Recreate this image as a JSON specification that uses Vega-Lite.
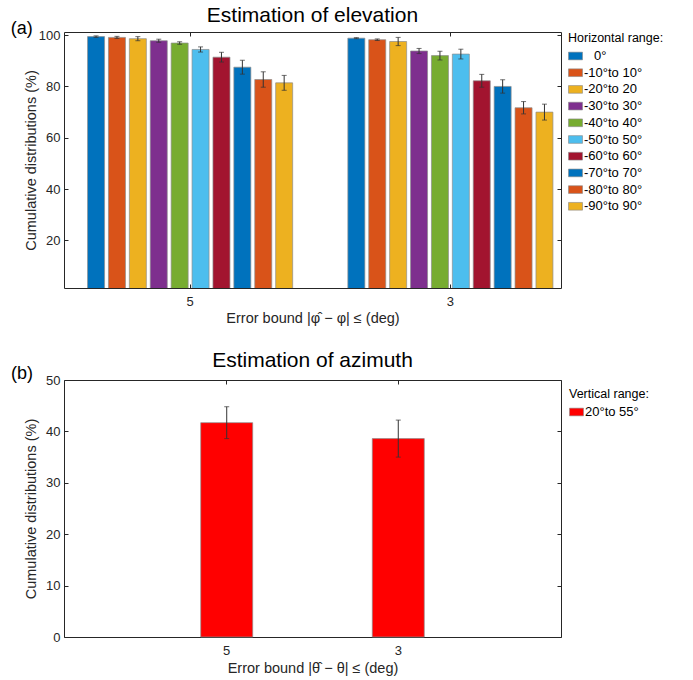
{
  "$schema": "https://vega.github.io/schema/vega-lite/v6.json",
  "padding": {"left": 10, "top": 4, "right": 5, "bottom": 2},
  "background": "white",
  "datasets": {
    "elev": [
      {"bound": "5", "range": "\u28000°", "value": 99.4, "err": 0.3},
      {"bound": "5", "range": "-10°to 10°", "value": 99.1, "err": 0.4},
      {"bound": "5", "range": "-20°to 20", "value": 98.6, "err": 0.8},
      {"bound": "5", "range": "-30°to 30°", "value": 97.8, "err": 0.6},
      {"bound": "5", "range": "-40°to 40°", "value": 96.9, "err": 0.5},
      {"bound": "5", "range": "-50°to 50°", "value": 94.4, "err": 1.0},
      {"bound": "5", "range": "-60°to 60°", "value": 91.4, "err": 1.9},
      {"bound": "5", "range": "-70°to 70°", "value": 87.5, "err": 2.7},
      {"bound": "5", "range": "-80°to 80°", "value": 82.7, "err": 3.0},
      {"bound": "5", "range": "-90°to 90°", "value": 81.4, "err": 2.9},
      {"bound": "3", "range": "\u28000°", "value": 98.8, "err": 0.2},
      {"bound": "3", "range": "-10°to 10°", "value": 98.2, "err": 0.3},
      {"bound": "3", "range": "-20°to 20", "value": 97.5, "err": 1.6},
      {"bound": "3", "range": "-30°to 30°", "value": 93.8, "err": 1.0},
      {"bound": "3", "range": "-40°to 40°", "value": 92.0, "err": 1.7},
      {"bound": "3", "range": "-50°to 50°", "value": 92.6, "err": 1.9},
      {"bound": "3", "range": "-60°to 60°", "value": 82.2, "err": 2.5},
      {"bound": "3", "range": "-70°to 70°", "value": 80.0, "err": 2.6},
      {"bound": "3", "range": "-80°to 80°", "value": 71.7, "err": 2.4},
      {"bound": "3", "range": "-90°to 90°", "value": 70.0, "err": 3.1}
    ],
    "azim": [
      {"bound": "5", "range": "20°to 55°", "value": 41.7, "err": 3.1},
      {"bound": "3", "range": "20°to 55°", "value": 38.6, "err": 3.6}
    ]
  },
  "config": {
    "font": "Liberation Sans",
    "view": {"stroke": "#262626", "strokeWidth": 1},
    "axis": {
      "grid": false, "domain": false,
      "labelFont": "Liberation Sans", "labelFontSize": 13, "labelColor": "#262626",
      "titleFont": "Liberation Sans", "titleFontSize": 14.5, "titleFontWeight": "normal", "titleColor": "#262626",
      "tickColor": "#262626", "tickSize": -4, "labelPadding": 8
    },
    "axisX": {"labelPadding": 11},
    "title": {"font": "Liberation Sans", "fontSize": 21, "fontWeight": "normal", "color": "#000000"},
    "legend": {
      "titleFont": "Liberation Sans", "titleFontSize": 12.5, "titleFontWeight": "normal", "titleColor": "#000000",
      "labelFont": "Liberation Sans", "labelFontSize": 13, "labelColor": "#000000",
      "symbolType": "M-1,-0.55H1V0.55H-1Z", "symbolSize": 196,
      "symbolStrokeColor": "#888888", "symbolStrokeWidth": 0.6, "symbolOpacity": 1,
      "rowPadding": 1.7, "labelOffset": 1, "titlePadding": 4, "offset": 6
    }
  },
  "spacing": 24,
  "resolve": {"scale": {"color": "independent"}, "legend": {"color": "independent"}},
  "vconcat": [
    {
      "title": {"text": "(a)", "anchor": "start", "frame": "bounds", "fontSize": 18, "offset": -33, "dx": -12, "color": "#000000"},
      "vconcat": [
        {
          "title": {"text": "Estimation of elevation", "offset": 3},
          "width": 497, "height": 256,
          "data": {"name": "elev"},
          "encoding": {
            "x": {"field": "bound", "type": "nominal", "sort": ["5", "3"],
                  "scale": {"paddingInner": 0.197, "paddingOuter": 0.0532, "align": 0.78},
                  "axis": {"title": "Error bound  |φ\u0302 − φ| ≤ (deg)", "labelAngle": 0, "titlePadding": 3}},
            "xOffset": {"field": "range", "type": "nominal",
                  "sort": ["\u28000°", "-10°to 10°", "-20°to 20", "-30°to 30°", "-40°to 40°", "-50°to 50°", "-60°to 60°", "-70°to 70°", "-80°to 80°", "-90°to 90°"],
                  "scale": {"paddingInner": 0.187, "paddingOuter": 0.0935}},
            "y": {"field": "value", "type": "quantitative",
                  "scale": {"domain": [1.5, 101.2], "nice": false, "zero": false},
                  "axis": {"title": "Cumulative distributions (%)", "values": [20, 40, 60, 80, 100], "titlePadding": 0}}
          },
          "layer": [
            {
              "mark": {"type": "bar", "clip": true, "stroke": "#8c8c8c", "strokeWidth": 0.7},
              "encoding": {
                "color": {"field": "range", "type": "nominal",
                  "scale": {
                    "domain": ["\u28000°", "-10°to 10°", "-20°to 20", "-30°to 30°", "-40°to 40°", "-50°to 50°", "-60°to 60°", "-70°to 70°", "-80°to 80°", "-90°to 90°"],
                    "range": ["#0072BD", "#D95319", "#EDB120", "#7E2F8E", "#77AC30", "#4DBEEE", "#A2142F", "#0072BD", "#D95319", "#EDB120"]
                  },
                  "legend": {"title": "Horizontal range:"}}
              }
            },
            {
              "mark": {"type": "errorbar", "ticks": {"size": 5, "color": "#333333"}, "rule": {"color": "#333333"}},
              "encoding": {
                "x": {"field": "bound", "type": "nominal", "sort": ["5", "3"], "axis": {"orient": "top", "labels": false, "title": null}},
                "y": {"field": "value", "type": "quantitative", "axis": {"orient": "right", "labels": false, "title": null, "values": [20, 40, 60, 80, 100]}},
                "yError": {"field": "err"}
              }
            }
          ],
          "resolve": {"axis": {"x": "independent", "y": "independent"}}
        }
      ]
    },
    {
      "title": {"text": "(b)", "anchor": "start", "frame": "bounds", "fontSize": 18, "offset": -33, "dx": -12, "color": "#000000"},
      "vconcat": [
        {
          "title": {"text": "Estimation of azimuth", "offset": 3},
          "width": 497, "height": 257,
          "data": {"name": "azim"},
          "encoding": {
            "x": {"field": "bound", "type": "nominal", "sort": ["5", "3"],
                  "scale": {"paddingInner": 0.697, "paddingOuter": 0.797},
                  "axis": {"title": "Error bound  |θ\u0302 − θ| ≤ (deg)", "labelAngle": 0, "titlePadding": 4}},
            "y": {"field": "value", "type": "quantitative",
                  "scale": {"domain": [0, 50], "nice": false},
                  "axis": {"title": "Cumulative distributions (%)", "values": [0, 10, 20, 30, 40, 50], "titlePadding": 7}}
          },
          "layer": [
            {
              "mark": {"type": "bar", "stroke": "#8c8c8c", "strokeWidth": 0.7},
              "encoding": {
                "color": {"field": "range", "type": "nominal",
                  "scale": {"range": ["#FF0000"]},
                  "legend": {"title": "Vertical range:", "padding": 8, "offset": -1}}
              }
            },
            {
              "mark": {"type": "errorbar", "ticks": {"size": 5, "color": "#333333"}, "rule": {"color": "#333333"}},
              "encoding": {
                "x": {"field": "bound", "type": "nominal", "sort": ["5", "3"], "axis": {"orient": "top", "labels": false, "title": null}},
                "y": {"field": "value", "type": "quantitative", "axis": {"orient": "right", "labels": false, "title": null, "values": [0, 10, 20, 30, 40, 50]}},
                "yError": {"field": "err"}
              }
            }
          ],
          "resolve": {"axis": {"x": "independent", "y": "independent"}}
        }
      ]
    }
  ]
}
